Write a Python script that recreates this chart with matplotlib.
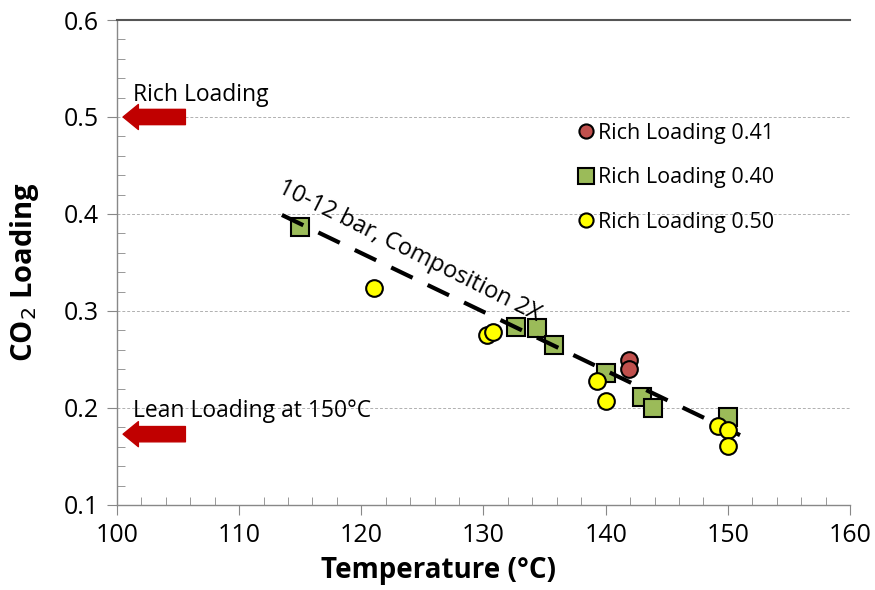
import numpy as np
import matplotlib
matplotlib.use("Agg")
import matplotlib.pyplot as plt
from matplotlib.patches import FancyArrowPatch
from matplotlib.ticker import MultipleLocator, FormatStrFormatter

plt.rcParams['font.family'] = ['Open Sans', 'DejaVu Sans']

# data
red_T = [141.9, 141.9]
red_L = [0.249, 0.240]

green_T = [115.0, 132.7, 134.4, 135.8, 140.0, 143.0, 143.9, 150.0]
green_L = [0.387, 0.283, 0.282, 0.265, 0.236, 0.211, 0.200, 0.191]

yellow_T = [121.0, 130.3, 130.8, 139.3, 140.0, 149.2, 150.0, 150.0]
yellow_L = [0.324, 0.275, 0.278, 0.228, 0.207, 0.181, 0.177, 0.161]

fit_T = [113.5, 151.0]
fit_L = [0.399, 0.172]

rich_level = 0.50
lean_level = 0.173

labels = ["Rich Loading 0.41", "Rich Loading 0.40", "Rich Loading 0.50"]

fig = plt.figure(figsize=(8.75, 5.9), dpi=100)
ax = fig.add_axes([0.1337, 0.1441, 0.8377, 0.822])

ax.set_xlim(100, 160)
ax.set_ylim(0.1, 0.6)
ax.xaxis.set_major_locator(MultipleLocator(10))
ax.xaxis.set_minor_locator(MultipleLocator(2))
ax.yaxis.set_major_locator(MultipleLocator(0.1))
ax.yaxis.set_minor_locator(MultipleLocator(0.02))
ax.yaxis.set_major_formatter(FormatStrFormatter('%.1f'))

ax.grid(axis='y', which='major', color='#b0b0b0', ls=(0, (3, 2)), lw=0.7)
ax.set_axisbelow(True)

for s in ['left', 'bottom']:
    ax.spines[s].set_color('#888888')
    ax.spines[s].set_linewidth(1.0)
ax.spines['right'].set_visible(False)
ax.spines['top'].set_color('#555555')
ax.spines['top'].set_linewidth(1.5)

ax.tick_params(which='major', direction='out', length=7, color='#888888',
               labelsize=18, pad=6)
ax.tick_params(which='minor', direction='in', length=6, color='#888888')
ax.tick_params(axis='x', which='both', top=False)

ms_sq = 13
ms_c = 12
ax.plot(green_T, green_L, 's', ms=ms_sq, mfc='#9BBB59', mec='black', mew=1.5,
        ls='none', zorder=3, label=labels[1])
ax.plot(fit_T, fit_L, color='black', lw=3, dashes=(5.7, 4.0), zorder=4)
ax.plot(red_T, red_L, 'o', ms=ms_c, mfc='#C0504D', mec='black', mew=1.5,
        ls='none', zorder=5, label=labels[0])
ax.plot(yellow_T, yellow_L, 'o', ms=ms_c, mfc='#FFFF00', mec='black', mew=1.5,
        ls='none', zorder=5, label=labels[2])

handles, labs = ax.get_legend_handles_labels()
order = [labs.index(l) for l in labels]
leg = ax.legend([handles[i] for i in order], labels, loc='upper left',
                bbox_to_anchor=(0.619, 0.806), frameon=False, fontsize=15.5,
                handlelength=0.6, handletextpad=0.25, labelspacing=1.09,
                markerscale=0.85, borderaxespad=0)

# red block arrows
for lvl in [rich_level, lean_level]:
    arr = FancyArrowPatch((105.6, lvl), (100.5, lvl),
                          arrowstyle='simple,head_length=11,head_width=18,tail_width=11',
                          mutation_scale=1, color='#C00000', shrinkA=0, shrinkB=0,
                          zorder=6, clip_on=False)
    ax.add_patch(arr)

ax.text(101.3, 0.523, "Rich Loading", fontsize=16.5, ha='left', va='center')
ax.text(101.3, 0.197, "Lean Loading at 150°C", fontsize=16.5, ha='left', va='center')
ax.text(123.9, 0.362, "10-12 bar, Composition 2X", fontsize=17, ha='center',
        va='center', rotation=-26.5, rotation_mode='anchor')

ax.set_xlabel("Temperature (°C)", fontsize=20, fontweight='bold')
ax.xaxis.set_label_coords(0.439, -0.106, transform=ax.transAxes)
ax.set_ylabel("CO$_2$ Loading", fontsize=21, fontweight='bold')
ax.yaxis.set_label_coords(-0.103, 0.48, transform=ax.transAxes)

fig.savefig("out.png", dpi=100)
